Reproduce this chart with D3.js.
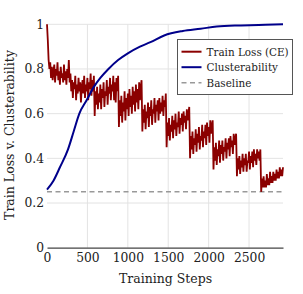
<!DOCTYPE html>
<html lang="en">
<head>
  <meta charset="UTF-8">
  <title>Train Loss v. Clusterability</title>
  <script src="https://d3js.org/d3.v7.min.js"></script>
  <style>
    body { margin: 0; background: #fff; }
    svg { display: block; }
    text { font-family: "DejaVu Serif", serif; fill: #222; }
  </style>
</head>
<body>
  <svg></svg>
  <script>

    const lossEvery = 10;
    const lossValues = [
      1.00, 0.93, 0.84, 0.80, 0.83, 0.76, 0.81, 0.75, 0.79, 0.82, 0.74, 0.80, 0.77, 0.83, 0.75, 0.79, 0.73, 0.81, 0.76, 0.78, 0.74, 0.82, 0.75, 0.79, 0.73, 0.80, 0.76, 0.84, 0.74, 0.78,
      0.70, 0.75, 0.67, 0.74, 0.71, 0.77, 0.66, 0.73, 0.69, 0.76, 0.70, 0.74, 0.65, 0.72, 0.75, 0.69, 0.77, 0.67, 0.73, 0.70, 0.76, 0.66, 0.74, 0.71, 0.78, 0.68, 0.75, 0.70, 0.77,
      0.59, 0.70, 0.64, 0.72, 0.62, 0.69, 0.65, 0.73, 0.62, 0.71, 0.67, 0.74, 0.63, 0.70, 0.68, 0.75, 0.64, 0.72, 0.69, 0.76, 0.66, 0.73, 0.70, 0.77, 0.66, 0.74, 0.65, 0.76, 0.70, 0.77,
      0.54, 0.66, 0.59, 0.68, 0.56, 0.65, 0.61, 0.70, 0.57, 0.67, 0.62, 0.69, 0.59, 0.71, 0.63, 0.68, 0.60, 0.72, 0.64, 0.70, 0.61, 0.73, 0.65, 0.71, 0.62, 0.74, 0.66, 0.72, 0.75,
      0.52, 0.62, 0.56, 0.64, 0.53, 0.61, 0.58, 0.65, 0.54, 0.63, 0.59, 0.66, 0.55, 0.62, 0.60, 0.67, 0.56, 0.64, 0.61, 0.66, 0.57, 0.67, 0.60, 0.65, 0.61, 0.68, 0.59, 0.66, 0.63, 0.69,
      0.45, 0.56, 0.50, 0.58, 0.48, 0.55, 0.52, 0.59, 0.49, 0.57, 0.53, 0.60, 0.50, 0.56, 0.54, 0.61, 0.51, 0.58, 0.55, 0.60, 0.52, 0.61, 0.56, 0.59, 0.53, 0.62, 0.57, 0.60, 0.63,
      0.40, 0.50, 0.44, 0.52, 0.42, 0.49, 0.46, 0.53, 0.43, 0.51, 0.47, 0.54, 0.44, 0.50, 0.48, 0.55, 0.45, 0.52, 0.49, 0.55, 0.46, 0.56, 0.50, 0.54, 0.47, 0.57, 0.51, 0.55, 0.57,
      0.35, 0.45, 0.39, 0.47, 0.37, 0.44, 0.41, 0.48, 0.38, 0.46, 0.42, 0.48, 0.39, 0.45, 0.43, 0.49, 0.40, 0.47, 0.44, 0.49, 0.41, 0.50, 0.45, 0.48, 0.42, 0.51, 0.46, 0.49, 0.51,
      0.32, 0.40, 0.35, 0.41, 0.33, 0.39, 0.36, 0.42, 0.34, 0.40, 0.37, 0.42, 0.34, 0.39, 0.38, 0.43, 0.35, 0.41, 0.38, 0.43, 0.36, 0.44, 0.39, 0.42, 0.37, 0.44, 0.40, 0.43, 0.39, 0.44,
      0.25, 0.31, 0.27, 0.32, 0.27, 0.30, 0.27, 0.33, 0.28, 0.31, 0.28, 0.34, 0.29, 0.32, 0.29, 0.34, 0.30, 0.33, 0.30, 0.35, 0.31, 0.34, 0.31, 0.36, 0.32, 0.35, 0.32, 0.36
    ];

    // clusterability
    const clusterSteps = [0, 80, 160, 260, 330, 400, 490, 580, 660, 760, 880, 1000, 1150, 1280, 1450, 1680, 1900, 2100, 2400, 2700, 2920];
    const clusterValues = [0.26, 0.30, 0.36, 0.44, 0.52, 0.60, 0.66, 0.72, 0.76, 0.80, 0.84, 0.87, 0.90, 0.92, 0.95, 0.97, 0.98, 0.99, 0.995, 0.998, 1.0];

    const baseline = 0.25;
    const xTicks = [0, 500, 1000, 1500, 2000, 2500];
    const yTicks = [0, 0.2, 0.4, 0.6, 0.8, 1];
    const legendNames = ['Train Loss (CE)', 'Clusterability', 'Baseline'];

    const W = 303, H = 294;
    const plot = {left: 47, right: 283, top: 24.3, bottom: 247.7};

    const svg = d3.select('svg').attr('width', W).attr('height', H);

    const x = d3.scaleLinear().domain([0, 2920]).range([plot.left, plot.right]);
    const y = d3.scaleLinear().domain([0, 1]).range([plot.bottom, plot.top]);

    // grid
    svg.append('g').selectAll('line')
      .data(xTicks.slice(1))
      .join('line')
      .attr('x1', d => x(d)).attr('x2', d => x(d))
      .attr('y1', plot.top).attr('y2', plot.bottom)
      .attr('stroke', '#e3e3e3').attr('stroke-width', 1);
    svg.append('g').selectAll('line')
      .data(yTicks.slice(1))
      .join('line')
      .attr('x1', plot.left).attr('x2', plot.right)
      .attr('y1', d => y(d)).attr('y2', d => y(d))
      .attr('stroke', '#e3e3e3').attr('stroke-width', 1);

    // x axis
    const xAxis = svg.append('g')
      .attr('transform', `translate(0,${plot.bottom})`)
      .call(d3.axisBottom(x).tickValues(xTicks).tickSize(0).tickPadding(6).tickFormat(d3.format('d')));
    xAxis.select('.domain').attr('stroke', '#444').attr('stroke-width', 1.2);
    xAxis.selectAll('text').style('font-size', '12.3px').attr('fill', '#222');

    // y axis
    const yAxis = svg.append('g')
      .attr('transform', `translate(${plot.left - 1},0)`)
      .call(d3.axisLeft(y).tickValues(yTicks).tickSize(0).tickPadding(2).tickFormat(d => d3.format('~g')(d)));
    yAxis.select('.domain').remove();
    yAxis.selectAll('text').style('font-size', '12.3px').attr('fill', '#222');

    // baseline
    svg.append('line')
      .attr('x1', x(0)).attr('x2', x(2920))
      .attr('y1', y(baseline)).attr('y2', y(baseline))
      .attr('stroke', '#999').attr('stroke-width', 1.5)
      .attr('stroke-dasharray', '5,3.5');

    // train loss
    const lossLine = d3.line()
      .x((d, i) => x(i * lossEvery))
      .y(d => y(d));
    svg.append('path')
      .datum(lossValues)
      .attr('fill', 'none')
      .attr('stroke', '#8b0000')
      .attr('stroke-width', 1.8)
      .attr('d', lossLine);

    // clusterability
    const clusterLine = d3.line()
      .x((d, i) => x(clusterSteps[i]))
      .y(d => y(d))
      .curve(d3.curveMonotoneX);
    svg.append('path')
      .datum(clusterValues)
      .attr('fill', 'none')
      .attr('stroke', '#00008b')
      .attr('stroke-width', 2)
      .attr('d', clusterLine);

    // legend
    const lg = svg.append('g').attr('transform', 'translate(177.5,39.5)');
    lg.append('rect')
      .attr('width', 115).attr('height', 55)
      .attr('fill', '#fff').attr('stroke', '#555').attr('stroke-width', 1);
    const colors = ['#8b0000', '#00008b', '#999'];
    legendNames.forEach((name, i) => {
      const cy = 12.2 + i * 15.5;
      lg.append('line')
        .attr('x1', 4).attr('x2', 24)
        .attr('y1', cy).attr('y2', cy)
        .attr('stroke', colors[i])
        .attr('stroke-width', i === 2 ? 1.5 : 2)
        .attr('stroke-dasharray', i === 2 ? '5,3.5' : null);
      lg.append('text')
        .attr('x', 29).attr('y', cy + 3.8)
        .style('font-size', '10.4px')
        .text(name);
    });

    // titles
    svg.append('text')
      .attr('x', 165.5).attr('y', 283)
      .attr('text-anchor', 'middle')
      .style('font-size', '12.5px')
      .text('Training Steps');
    svg.append('text')
      .attr('transform', 'translate(14,135) rotate(-90)')
      .attr('text-anchor', 'middle')
      .style('font-size', '12.5px')
      .text('Train Loss v. Clusterability');

  </script>
</body>
</html>
